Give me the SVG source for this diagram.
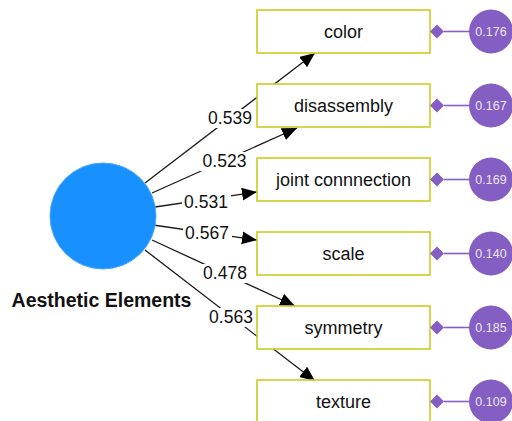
<svg xmlns="http://www.w3.org/2000/svg" width="512" height="421" viewBox="0 0 512 421">
<style>
.box{fill:#fff;stroke:#cccc22;stroke-width:1.6}
.bl{font-family:"Liberation Sans",Arial,sans-serif;font-size:18px;fill:#111;text-anchor:middle}
.edge{stroke:#1a1a1a;stroke-width:1.3;fill:none;marker-end:url(#ah)}
.lbl{font-family:"Liberation Sans",Arial,sans-serif;font-size:17.5px;fill:#111;text-anchor:middle}
.lbg{fill:#fff}
.err{fill:#845ec2}
.errt{font-family:"Liberation Sans",Arial,sans-serif;font-size:12.5px;fill:#ece6f7;text-anchor:middle}
.el{stroke:#845ec2;stroke-width:1.6}
</style>
<defs>
<marker id="ah" markerUnits="userSpaceOnUse" markerWidth="16" markerHeight="14" refX="15" refY="6.5" orient="auto">
<path d="M0,0 L15,6.5 L0,13 z" fill="#000"/>
</marker>
<path id="dia" d="M-7,0 L0,-7 L7,0 L0,7 z"/>
</defs>
<g id="connectors">
<line class="edge" x1="145" y1="183" x2="315" y2="53"/>
<line class="edge" x1="152" y1="193" x2="297" y2="128"/>
<line class="edge" x1="155" y1="207" x2="257" y2="192"/>
<line class="edge" x1="153" y1="225" x2="257" y2="240"/>
<line class="edge" x1="152" y1="240" x2="295" y2="306"/>
<line class="edge" x1="145" y1="250" x2="315" y2="381"/>
<rect class="lbg" x="206" y="109" width="49" height="19"/>
<text class="lbl" x="230" y="124">0.539</text>
<rect class="lbg" x="200" y="152" width="49" height="19"/>
<text class="lbl" x="224.5" y="167">0.523</text>
<rect class="lbg" x="182" y="193" width="49" height="19"/>
<text class="lbl" x="206" y="208">0.531</text>
<rect class="lbg" x="183" y="224" width="49" height="19"/>
<text class="lbl" x="207" y="239">0.567</text>
<rect class="lbg" x="201" y="264" width="49" height="19"/>
<text class="lbl" x="225" y="279">0.478</text>
<rect class="lbg" x="207" y="308" width="49" height="19"/>
<text class="lbl" x="231" y="323">0.563</text>
</g>
<g id="aesthetic">
<circle cx="103" cy="216" r="53" fill="#1890ff" stroke="#4aa8ff" stroke-width="1"/>
<text x="101.5" y="307" font-family="'Liberation Sans',Arial,sans-serif" font-size="19.5px" font-weight="bold" fill="#111" text-anchor="middle">Aesthetic Elements</text>
</g>
<g id="color">
<rect class="box" x="257" y="10" width="173" height="43"/>
<text class="bl" x="343.5" y="38">color</text>
<line class="el" x1="444" y1="31.5" x2="470" y2="31.5"/>
<use href="#dia" x="437" y="31.5" class="err"/>
<circle class="err" cx="491" cy="31.5" r="22"/>
<text class="errt" x="491" y="36">0.176</text>
</g>
<g id="disassembly">
<rect class="box" x="257" y="84" width="173" height="43"/>
<text class="bl" x="343.5" y="112">disassembly</text>
<line class="el" x1="444" y1="105.5" x2="470" y2="105.5"/>
<use href="#dia" x="437" y="105.5" class="err"/>
<circle class="err" cx="491" cy="105.5" r="22"/>
<text class="errt" x="491" y="110">0.167</text>
</g>
<g id="joint">
<rect class="box" x="257" y="158" width="173" height="43"/>
<text class="bl" x="343.5" y="186">joint connnection</text>
<line class="el" x1="444" y1="179.5" x2="470" y2="179.5"/>
<use href="#dia" x="437" y="179.5" class="err"/>
<circle class="err" cx="491" cy="179.5" r="22"/>
<text class="errt" x="491" y="184">0.169</text>
</g>
<g id="scale">
<rect class="box" x="257" y="232" width="173" height="43"/>
<text class="bl" x="343.5" y="260">scale</text>
<line class="el" x1="444" y1="253.5" x2="470" y2="253.5"/>
<use href="#dia" x="437" y="253.5" class="err"/>
<circle class="err" cx="491" cy="253.5" r="22"/>
<text class="errt" x="491" y="258">0.140</text>
</g>
<g id="symmetry">
<rect class="box" x="257" y="306" width="173" height="43"/>
<text class="bl" x="343.5" y="334">symmetry</text>
<line class="el" x1="444" y1="327.5" x2="470" y2="327.5"/>
<use href="#dia" x="437" y="327.5" class="err"/>
<circle class="err" cx="491" cy="327.5" r="22"/>
<text class="errt" x="491" y="332">0.185</text>
</g>
<g id="texture">
<rect class="box" x="257" y="380" width="173" height="43"/>
<text class="bl" x="343.5" y="408">texture</text>
<line class="el" x1="444" y1="401.5" x2="470" y2="401.5"/>
<use href="#dia" x="437" y="401.5" class="err"/>
<circle class="err" cx="491" cy="401.5" r="22"/>
<text class="errt" x="491" y="406">0.109</text>
</g>
</svg>
